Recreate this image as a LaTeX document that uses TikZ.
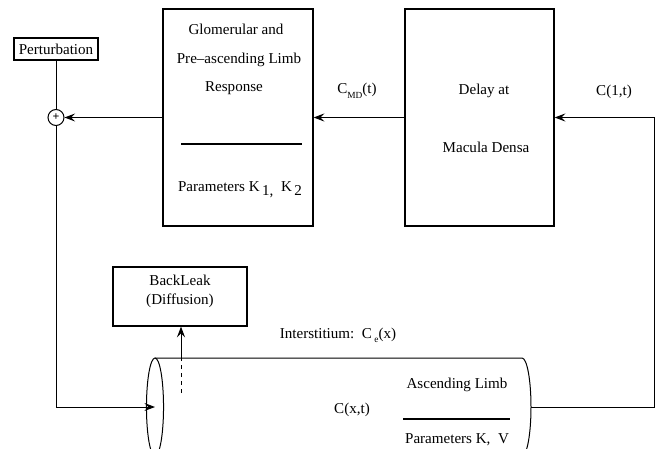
\documentclass[tikz,border=0pt]{standalone}
\usepackage{fontspec}
\setmainfont{Liberation Serif}
\usetikzlibrary{arrows.meta}
\begin{document}
\begin{tikzpicture}[x=0.75pt,y=-0.75pt,
  every node/.style={font=\fontsize{11.3}{13}\selectfont, inner sep=0pt},
  boxst/.style={draw, line width=0.9pt, rectangle},
  lbl/.style={anchor=center},
  conn/.style={line width=0.75pt},
  arr/.style={line width=0.75pt, -{Stealth[length=8pt,width=6pt,inset=3pt]}},
  bar/.style={line width=1.3pt}]
\useasboundingbox (0,0) rectangle (656,449);

% boxes
\node[boxst, minimum width=63pt, minimum height=16.5pt] (pert) at (56,49) {};
\node[lbl] (perttxt) at (56,49.5) {Perturbation};
\node[draw, circle, line width=0.75pt, minimum size=12pt] (sum) at (56,117.5) {};
\node (plus) at (56,117.5) {\fontsize{9}{9}\selectfont\textbf{+}};

\node[boxst, minimum width=112.5pt, minimum height=162.75pt] (glom) at (238,117.5) {};
\node[lbl] (g1) at (236,29) {Glomerular and};
\node[lbl] (g2) at (239,60) {Pre–ascending Limb};
\node[lbl] (g3) at (234,88) {Response};
\coordinate (gbl) at (181,144);
\coordinate (gbr) at (302,144);
\draw[bar] (gbl) -- (gbr);
\node[lbl] (g4) at (240,190) {Parameters K\,\raisebox{-0.55ex}{1,}\ \ K\,\raisebox{-0.55ex}{2}};

\node[boxst, minimum width=111.75pt, minimum height=162.75pt] (delay) at (479.5,117.5) {};
\node[lbl] (d1) at (484,91) {Delay at};
\node[lbl] (d2) at (486,147) {Macula Densa};

\node[lbl] (cmd) at (357,91) {C\raisebox{-0.7ex}{\fontsize{7}{7}\selectfont MD}(t)};
\node[lbl] (c1t) at (614,92) {C(1,t)};

\node[boxst, minimum width=100.5pt, minimum height=44.25pt] (leak) at (180,296.5) {};
\node[lbl] (l1) at (180,280) {BackLeak};
\node[lbl] (l2) at (180,301) {(Diffusion)};

\node[lbl] (inter) at (338,335) {Interstitium:\ \ C\,\raisebox{-0.6ex}{\fontsize{7}{7}\selectfont e}(x)};
\node[lbl] (cxt) at (352,410) {C(x,t)};
\node[lbl] (asc) at (457,385) {Ascending Limb};
\coordinate (abl) at (403,419);
\coordinate (abr) at (510,419);
\draw[bar] (abl) -- (abr);
\node[lbl] (apar) at (457,440) {Parameters K,\ \ V};

% cylinder
\coordinate (cylL) at (155,407);
\coordinate (cylTL) at (155,358);
\coordinate (cylTR) at (522,358);
\coordinate (cylBL) at (155,456);
\coordinate (cylBR) at (522,456);
\coordinate (cylR) at (531,407);
\draw[line width=0.75pt] (cylL) ellipse [x radius=6.4pt, y radius=36.75pt];
\draw[line width=0.75pt] (cylTL) -- (cylTR)
  .. controls (526.97,358) and (531,379.9) .. (cylR)
  .. controls (531,434.1) and (526.97,456) .. (cylBR) -- (cylBL);

% connectors
\coordinate (rtop) at (654,117.5);
\coordinate (rbot) at (654,407);
\draw[arr] (cylR) -- (rbot) -- (rtop) -- (delay.east);
\draw[arr] (delay.west) -- (glom.east);
\draw[arr] (glom.west) -- (sum.east);
\draw[conn] (pert.south) -- (sum.north);
\coordinate (lcorner) at (56,407);
\draw[arr] (sum.south) -- (lcorner) -- (cylL);
\coordinate (dashs) at (181,393);
\coordinate (dashe) at (181,358);
\draw[conn, dashed] (dashs) -- (dashe);
\draw[arr] (dashe) -- (leak.south -| dashe);
\end{tikzpicture}
\end{document}
